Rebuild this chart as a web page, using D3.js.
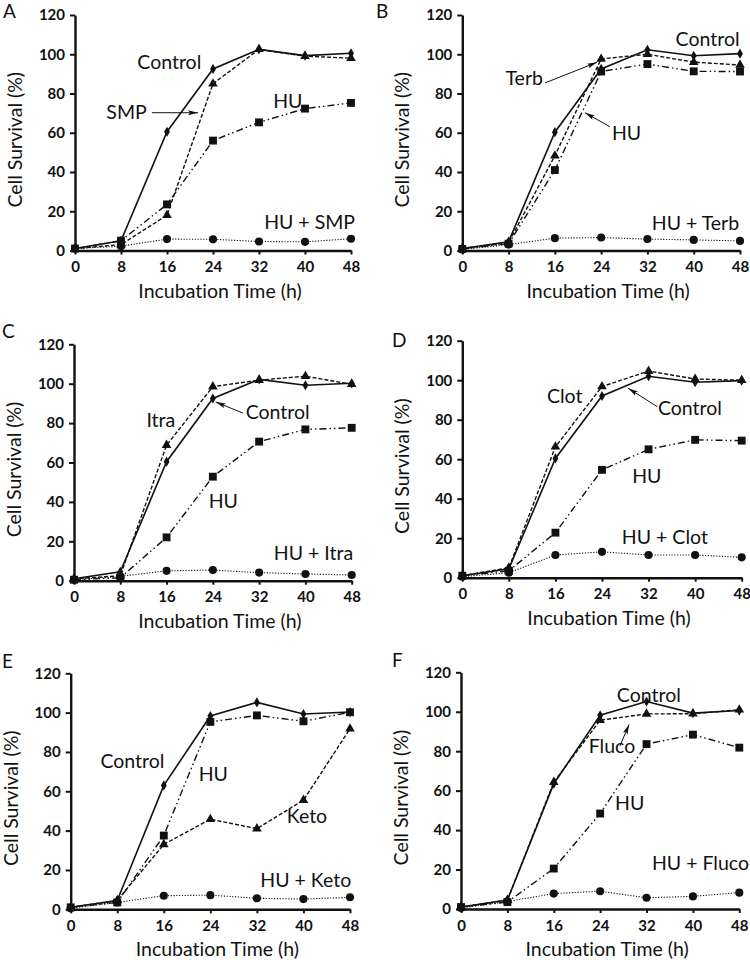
<!DOCTYPE html>
<html>
<head>
<meta charset="utf-8">
<script src="https://cdn.jsdelivr.net/npm/d3@7"></script>
<style>
  html, body { margin: 0; padding: 0; background: #fff; }
  svg { display: block; }
  text { font-family: Lato, "Open Sans", sans-serif; fill: #111; font-variant-ligatures: none; font-feature-settings: "liga" 0, "clig" 0; }
</style>
</head>
<body>
<svg id="chart" width="750" height="960"></svg>
<script>
// ---------------- data ----------------
const times = [0, 8, 16, 24, 32, 40, 48];
const xTicks = [0, 8, 16, 24, 32, 40, 48];
const yTicks = [0, 20, 40, 60, 80, 100, 120];
const panelLetters = ["A", "B", "C", "D", "E", "F"];
const drugNames = ["SMP", "Terb", "Itra", "Clot", "Keto", "Fluco"];

const controlA = [1, 5, 60.5, 92.5, 102.5, 99.3, 100.5];
const drugA    = [1, 3, 18, 85, 102.5, 99, 98];
const huA      = [1, 5, 23.5, 56, 65.3, 72.3, 75.2];
const comboA   = [1, 2.2, 5.8, 5.7, 4.6, 4.4, 6];

const controlB = [1, 4.5, 60.3, 92.5, 102.3, 99.2, 100.3];
const drugB    = [1, 4, 48.3, 97.6, 100, 96, 94.5];
const huB      = [0.8, 3.5, 41, 91.2, 95, 91.3, 91.2];
const comboB   = [0.5, 3, 6.3, 6.6, 5.8, 5.4, 4.9];

const controlC = [1, 4.5, 60.4, 92.5, 102.2, 99.2, 100.2];
const drugC    = [1, 2.5, 68.8, 98.5, 101.8, 103.8, 99.7];
const huC      = [0.5, 1.5, 22, 52.8, 70.6, 76.8, 77.6];
const comboC   = [0.5, 2.2, 5, 5.4, 4.1, 3.4, 2.9];

const controlD = [1, 4.5, 60.4, 92, 102, 99, 99.8];
const drugD    = [1, 5, 66.3, 96.8, 104.6, 100.6, 100];
const huD      = [1, 3.5, 22.8, 54.6, 65, 69.8, 69.4];
const comboD   = [0.5, 2.5, 11.5, 13.1, 11.5, 11.5, 10.3];

const controlE = [1, 4.5, 63, 98.3, 105.2, 99.3, 100.3];
const drugE    = [1, 4.5, 33, 45.8, 41, 55.5, 91.8];
const huE      = [1, 3.5, 37.5, 95.3, 98.6, 95.6, 100.2];
const comboE   = [0.5, 3.5, 6.9, 7.2, 5.6, 5.2, 6.1];

const controlF = [1, 4.5, 63.5, 98.2, 105.2, 99.3, 100.6];
const drugF    = [1, 4.5, 64.3, 95.7, 98.9, 99, 101];
const huF      = [1, 3.5, 20.5, 48.4, 83.6, 88.4, 81.8];
const comboF   = [0.5, 3.8, 7.8, 9, 5.7, 6.4, 8.3];

const controlSeries = [controlA, controlB, controlC, controlD, controlE, controlF];
const drugSeries    = [drugA, drugB, drugC, drugD, drugE, drugF];
const huSeries      = [huA, huB, huC, huD, huE, huF];
const comboSeries   = [comboA, comboB, comboC, comboD, comboE, comboF];

// annotation anchors in data units (hours, %)
const labelAnchors = [
  [{t:"Control", at:[16.4, 92.4]}, {t:"SMP", at:[8.96, 67.2]}, {t:"HU", at:[37.0, 72.8]}, {t:"HU + SMP", at:[40.8, 11]}],
  [{t:"Control", at:[42.4, 104.1]}, {t:"Terb", at:[10.7, 84.5]}, {t:"HU", at:[28.4, 56.4]}, {t:"HU + Terb", at:[40.3, 10.5]}],
  [{t:"Itra", at:[15.0, 78.2]}, {t:"Control", at:[35.2, 82.1]}, {t:"HU", at:[25.8, 36.9]}, {t:"HU + Itra", at:[41.4, 10.5]}],
  [{t:"Clot", at:[17.6, 88.5]}, {t:"Control", at:[39.1, 82.4]}, {t:"HU", at:[31.7, 48.1]}, {t:"HU + Clot", at:[34.8, 17.1]}],
  [{t:"Control", at:[10.6, 71.7]}, {t:"HU", at:[24.5, 65.2]}, {t:"Keto", at:[40.6, 43.9]}, {t:"HU + Keto", at:[40.4, 11.5]}],
  [{t:"Control", at:[32.4, 105.1]}, {t:"Fluco", at:[26.05, 79.2]}, {t:"HU", at:[29.1, 50.2]}, {t:"HU + Fluco", at:[41.3, 19.8]}]
];
const arrowAnchors = [
  [[[13.4, 70.2], [21.4, 70.2]]],
  [[[14.3, 85.4], [23.3, 95.9]], [[25.5, 63.1], [21.2, 70.2]]],
  [[[29.2, 85.1], [24.5, 90.7]]],
  [[[33.5, 86.6], [28.5, 95.9]]],
  [],
  [[[27.4, 82.6], [29.0, 93.6]]]
];

// ---------------- layout ----------------
const frames = [
  {x0:75,   x1:351,   yb:250.5, yt:15,    lx:3,   ly:18},
  {x0:462.3,x1:740,   yb:250.5, yt:15,    lx:376, ly:18},
  {x0:74,   x1:351.7, yb:580.7, yt:344.3, lx:2,   ly:338},
  {x0:462.3,x1:741.7, yb:577.7, yt:340.7, lx:392, ly:347},
  {x0:70.7, x1:350,   yb:909.3, yt:673.3, lx:2,   ly:668},
  {x0:461,  x1:739.3, yb:909,   yt:672.3, lx:392, ly:667}
];

const svg = d3.select("#chart");
const defs = svg.append("defs");
defs.append("marker")
  .attr("id", "arrowhead")
  .attr("viewBox", "0 0 10 6")
  .attr("refX", 10).attr("refY", 3)
  .attr("markerWidth", 10).attr("markerHeight", 6)
  .attr("markerUnits", "userSpaceOnUse")
  .attr("orient", "auto")
  .append("path")
  .attr("d", "M0,0.5 L10,3 L0,5.5 L2,3 Z")
  .attr("fill", "#111");

const styles = {
  combo:   {dash: "1.2,1.6", width: 1.1, symbol: d3.symbolCircle,   size: 52},
  hu:      {dash: "7,3,1.5,3,1.5,3", width: 1.4, symbol: d3.symbolSquare, size: 62},
  drug:    {dash: "4,2", width: 1.4, symbol: d3.symbolTriangle, size: 40},
  control: {dash: null, width: 1.6, symbol: d3.symbolDiamond,  size: 30}
};

frames.forEach((f, i) => {
  const x = d3.scaleLinear().domain([0, 48]).range([f.x0, f.x1]);
  const y = d3.scaleLinear().domain([0, 120]).range([f.yb, f.yt]);
  const g = svg.append("g");

  // axes
  const ya = g.append("g").attr("transform", `translate(${f.x0},0)`)
    .call(d3.axisLeft(y).tickValues(yTicks).tickSize(5).tickPadding(5).tickSizeOuter(0));
  const xa = g.append("g").attr("transform", `translate(0,${f.yb})`)
    .call(d3.axisBottom(x).tickValues(xTicks).tickSize(4).tickPadding(7).tickSizeOuter(0));
  [ya, xa].forEach(a => {
    a.select(".domain").attr("stroke", "#111").attr("stroke-width", 2.4);
    a.selectAll(".tick line").attr("stroke", "#111").attr("stroke-width", 2);
    a.selectAll(".tick text").attr("font-family", "Lato, sans-serif")
      .attr("font-weight", "bold").attr("font-size", 15).attr("fill", "#111");
  });

  // axis titles
  g.append("text")
    .attr("transform", `translate(${f.x0 - 53},${(f.yb + f.yt) / 2 + 7}) rotate(-90)`)
    .attr("text-anchor", "middle").attr("font-size", 19.5)
    .text("Cell Survival (%)");
  g.append("text")
    .attr("x", (f.x0 + f.x1) / 2 + 7).attr("y", f.yb + 47)
    .attr("text-anchor", "middle").attr("font-size", 19.5)
    .text("Incubation Time (h)");

  // panel letter
  g.append("text").attr("x", f.lx).attr("y", f.ly).attr("font-size", 19).text(panelLetters[i]);

  // series
  const series = [
    {key: "combo", vals: comboSeries[i]},
    {key: "hu", vals: huSeries[i]},
    {key: "drug", vals: drugSeries[i]},
    {key: "control", vals: controlSeries[i]}
  ];
  const line = d3.line().x((d, k) => x(times[k])).y(d => y(d));
  series.forEach(s => {
    const st = styles[s.key];
    g.append("path").datum(s.vals)
      .attr("d", line).attr("fill", "none").attr("stroke", "#111")
      .attr("stroke-width", st.width)
      .attr("stroke-dasharray", st.dash);
    g.selectAll(null).data(s.vals).enter().append("path")
      .attr("transform", (d, k) => `translate(${x(times[k])},${y(d)})`)
      .attr("d", d3.symbol().type(st.symbol).size(st.size)())
      .attr("fill", "#111");
  });

  // labels
  labelAnchors[i].forEach(l => {
    g.append("text").attr("x", x(l.at[0])).attr("y", y(l.at[1]))
      .attr("text-anchor", "middle").attr("font-size", 19.5).text(l.t);
  });
  // arrows
  arrowAnchors[i].forEach(a => {
    g.append("line")
      .attr("x1", x(a[0][0])).attr("y1", y(a[0][1]))
      .attr("x2", x(a[1][0])).attr("y2", y(a[1][1]))
      .attr("stroke", "#111").attr("stroke-width", 1)
      .attr("marker-end", "url(#arrowhead)");
  });
});
</script>
</body>
</html>
